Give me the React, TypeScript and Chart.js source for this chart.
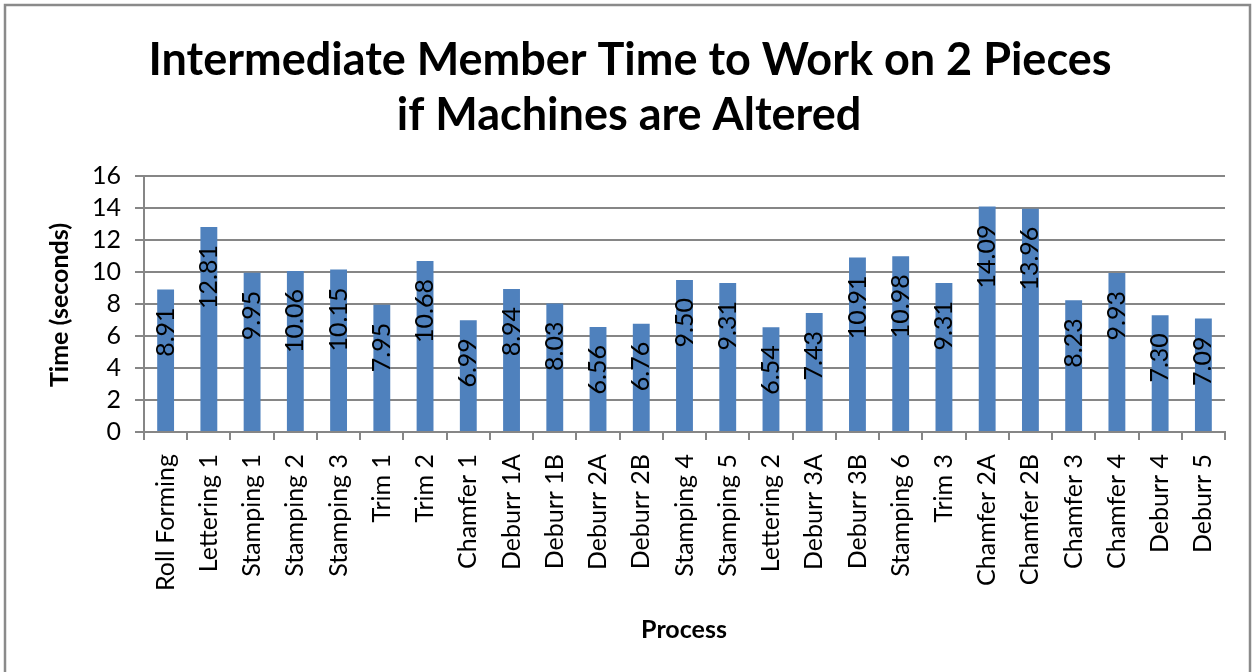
import React, { useEffect, useRef } from "react";
import { Chart, registerables } from "chart.js";

Chart.register(...registerables);

const categories = [
  "Roll Forming", "Lettering 1", "Stamping 1", "Stamping 2", "Stamping 3", "Trim 1", "Trim 2",
  "Chamfer 1", "Deburr 1A", "Deburr 1B", "Deburr 2A", "Deburr 2B", "Stamping 4", "Stamping 5",
  "Lettering 2", "Deburr 3A", "Deburr 3B", "Stamping 6", "Trim 3", "Chamfer 2A", "Chamfer 2B",
  "Chamfer 3", "Chamfer 4", "Deburr 4", "Deburr 5",
];
const times = [
  8.91, 12.81, 9.95, 10.06, 10.15, 7.95, 10.68, 6.99, 8.94, 8.03, 6.56, 6.76, 9.5, 9.31,
  6.54, 7.43, 10.91, 10.98, 9.31, 14.09, 13.96, 8.23, 9.93, 7.3, 7.09,
];
const titleLines = ["Intermediate Member Time to Work on 2 Pieces", "if Machines are Altered"];
const yTitle = "Time (seconds)";
const xTitle = "Process";
const yMin = 0;
const yMax = 16;
const yStep = 2;

const FONT = "Lato";
const GRID = "#868686";

const decorPlugin = {
  id: "decor",
  afterDraw(chart: any) {
    const ctx = chart.ctx;
    ctx.save();
    ctx.strokeStyle = "#8a8a8a";
    ctx.lineWidth = 2.5;
    ctx.strokeRect(5, 5, 1245, 800);
    ctx.fillStyle = "#000";
    ctx.textAlign = "center";
    ctx.textBaseline = "middle";
    ctx.font = `bold 45px ${FONT}`;
    ctx.fillText(titleLines[0], 630, 60);
    ctx.fillText(titleLines[1], 629, 115);
    ctx.font = `bold 25px ${FONT}`;
    ctx.fillText(xTitle, 684, 630);
    ctx.save();
    ctx.translate(60, 305);
    ctx.rotate(-Math.PI / 2);
    ctx.fillText(yTitle, 0, 0);
    ctx.restore();
    ctx.restore();
  },
  afterDatasetsDraw(chart: any) {
    const ctx = chart.ctx;
    const meta = chart.getDatasetMeta(0);
    ctx.save();
    ctx.fillStyle = "#000";
    ctx.font = `25px ${FONT}`;
    ctx.textAlign = "right";
    ctx.textBaseline = "middle";
    meta.data.forEach((bar: any, i: number) => {
      ctx.save();
      ctx.translate(bar.x, bar.y + 18);
      ctx.rotate(-Math.PI / 2);
      ctx.fillText(times[i].toFixed(2), 0, 0);
      ctx.restore();
    });
    ctx.restore();
  },
};

export default function App() {
  const ref = useRef<HTMLCanvasElement>(null);
  useEffect(() => {
    document.body.style.margin = "0";
    const chart = new Chart(ref.current!, {
      type: "bar",
      data: {
        labels: categories,
        datasets: [
          {
            data: times,
            backgroundColor: "#4F81BD",
            barPercentage: 0.39,
            categoryPercentage: 1,
          },
        ],
      },
      options: {
        animation: false,
        responsive: false,
        layout: { padding: { top: 176, right: 28, left: 0, bottom: 0 } },
        plugins: { legend: { display: false }, tooltip: { enabled: false } },
        scales: {
          x: {
            grid: { drawOnChartArea: false, tickLength: 8, color: GRID, lineWidth: 2 },
            border: { color: GRID, width: 2 },
            ticks: {
              maxRotation: 90,
              minRotation: 90,
              autoSkip: false,
              padding: 14,
              color: "#000",
              font: { family: FONT, size: 25 },
            },
            afterFit: (s: any) => {
              s.height = 240;
            },
          },
          y: {
            min: yMin,
            max: yMax,
            grid: { color: GRID, lineWidth: 2, tickLength: 9 },
            border: { color: GRID, width: 2 },
            ticks: {
              stepSize: yStep,
              autoSkip: false,
              padding: 14,
              color: "#000",
              font: { family: FONT, size: 25 },
            },
            afterFit: (s: any) => {
              s.width = 144;
            },
          },
        },
      },
      plugins: [decorPlugin],
    });
    return () => chart.destroy();
  }, []);
  return (
    <div style={{ position: "absolute", left: 0, top: 0, width: 1253, height: 672 }}>
      <canvas ref={ref} width={1253} height={672} />
    </div>
  );
}
